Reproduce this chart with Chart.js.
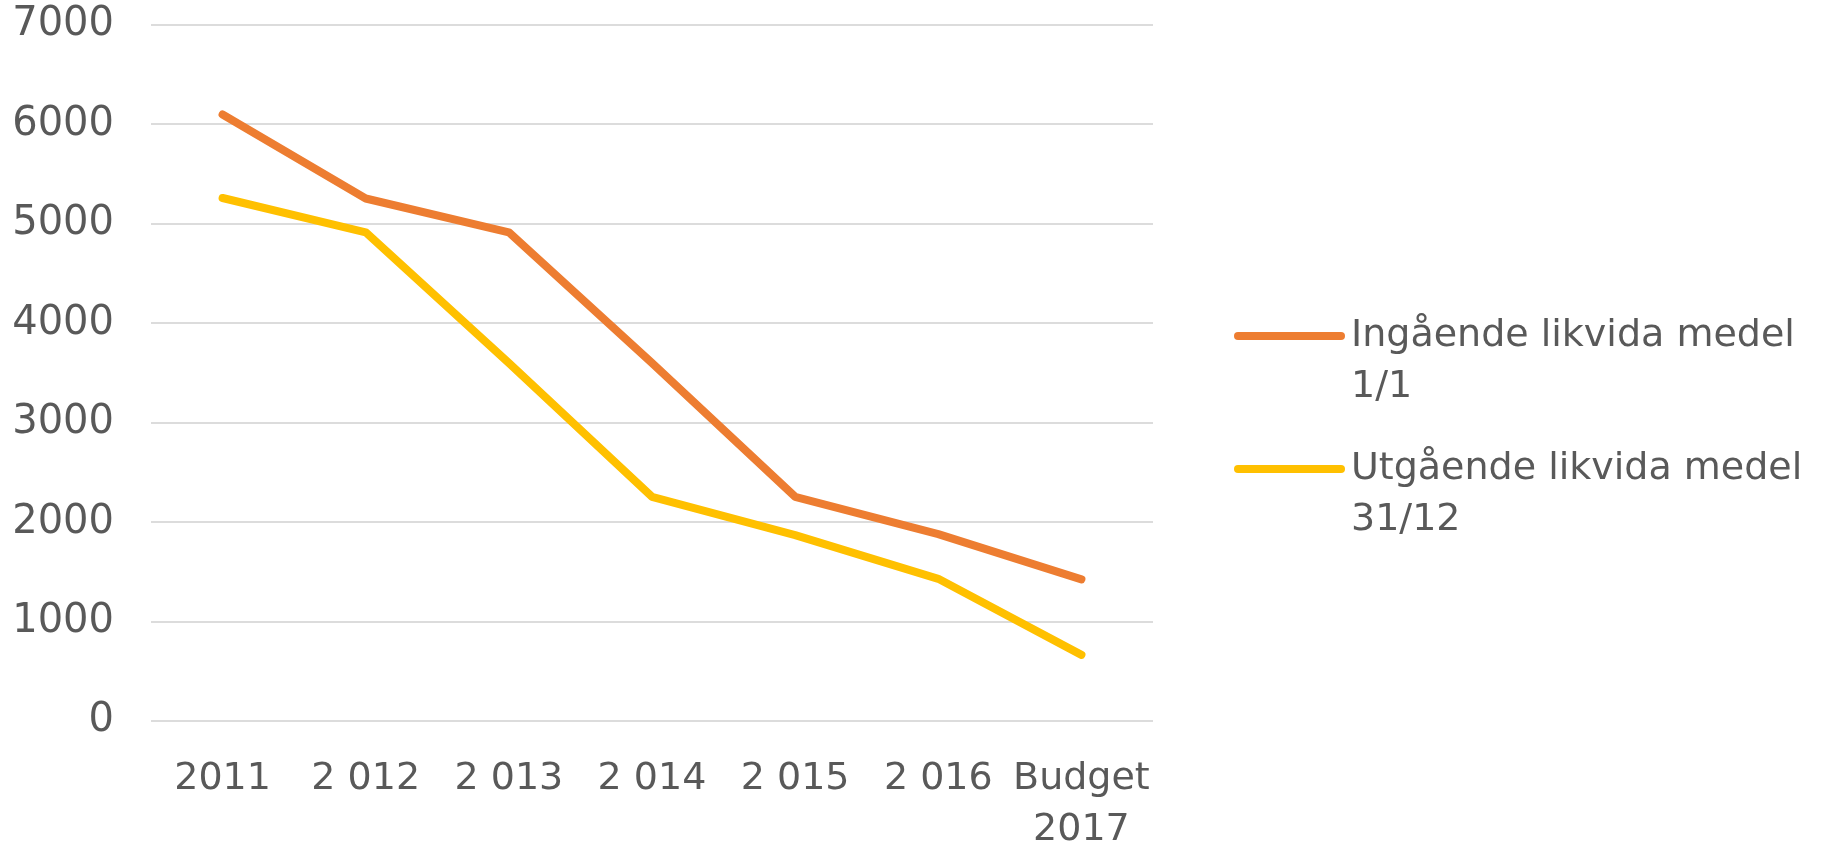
<!DOCTYPE html>
<html>
<head>
<meta charset="utf-8">
<script src="https://cdn.jsdelivr.net/npm/chart.js@4/dist/chart.umd.min.js"></script>
<style>
  html, body { margin: 0; padding: 0; background: #ffffff; }
  #wrap { width: 1821px; height: 846px; position: relative; }
</style>
</head>
<body>
<div id="wrap"><canvas id="c" width="1821" height="846"></canvas></div>
<script>
const categories = ["2011", "2 012", "2 013", "2 014", "2 015", "2 016", ["Budget", "2017"]];
const ingaende = [6100, 5255, 4915, 3600, 2255, 1880, 1425];
const utgaende = [5260, 4915, 3600, 2255, 1870, 1430, 665];
const seriesLabels = [["Ingående likvida medel", "1/1"], ["Utgående likvida medel", "31/12"]];
const yTicks = [0, 1000, 2000, 3000, 4000, 5000, 6000, 7000];

const TEXT = '#595959';
const FONT = 'DejaVu Sans';

const legendPlugin = {
  id: 'sideLegend',
  afterDraw(chart) {
    const ctx = chart.ctx;
    const startY = [336, 469];
    ctx.save();
    chart.data.datasets.forEach((ds, i) => {
      const y = startY[i];
      ctx.strokeStyle = ds.borderColor;
      ctx.lineWidth = 8;
      ctx.lineCap = 'round';
      ctx.beginPath();
      ctx.moveTo(1238, y);
      ctx.lineTo(1341, y);
      ctx.stroke();
      ctx.fillStyle = TEXT;
      ctx.font = '38px "' + FONT + '"';
      ctx.textBaseline = 'middle';
      ctx.textAlign = 'left';
      ds.legendText.forEach((t, j) => ctx.fillText(t, 1351, y + j * 51));
    });
    ctx.restore();
  }
};

new Chart(document.getElementById('c'), {
  type: 'line',
  data: {
    labels: categories,
    datasets: [
      { label: seriesLabels[0].join(' '), legendText: seriesLabels[0], data: ingaende,
        borderColor: '#ED7D31', backgroundColor: '#ED7D31', borderWidth: 8,
        pointRadius: 0, tension: 0, borderCapStyle: 'round', borderJoinStyle: 'round' },
      { label: seriesLabels[1].join(' '), legendText: seriesLabels[1], data: utgaende,
        borderColor: '#FFC000', backgroundColor: '#FFC000', borderWidth: 8,
        pointRadius: 0, tension: 0, borderCapStyle: 'round', borderJoinStyle: 'round' }
    ]
  },
  options: {
    responsive: false,
    animation: false,
    layout: { padding: { left: 0, right: 668, top: 0, bottom: 0 } },
    plugins: { legend: { display: false }, tooltip: { enabled: false } },
    scales: {
      x: {
        offset: true,
        grid: { display: false, drawTicks: false, offset: true },
        border: { display: false },
        ticks: {
          color: TEXT, font: { family: FONT, size: 38, lineHeight: 1.34 }, padding: 33,
          maxRotation: 0, autoSkip: false,
          callback(v, i) { const l = categories[i]; return Array.isArray(l) ? l : [l, '']; }
        },
        afterFit(s) { s.height = 125; s.paddingTop = 0; s.paddingBottom = 0; }
      },
      y: {
        min: 0, max: 7000,
        afterBuildTicks(s) { s.ticks = yTicks.map(v => ({ value: v })); },
        grid: { color: '#dcdcdc', lineWidth: 2, drawTicks: false },
        border: { display: false },
        ticks: { color: TEXT, font: { family: FONT, size: 40 }, padding: 37, callback: v => String(v) },
        afterFit(s) { s.width = 151; s.paddingTop = 25; s.paddingBottom = 0; }
      }
    }
  },
  plugins: [legendPlugin]
});
</script>
</body>
</html>
